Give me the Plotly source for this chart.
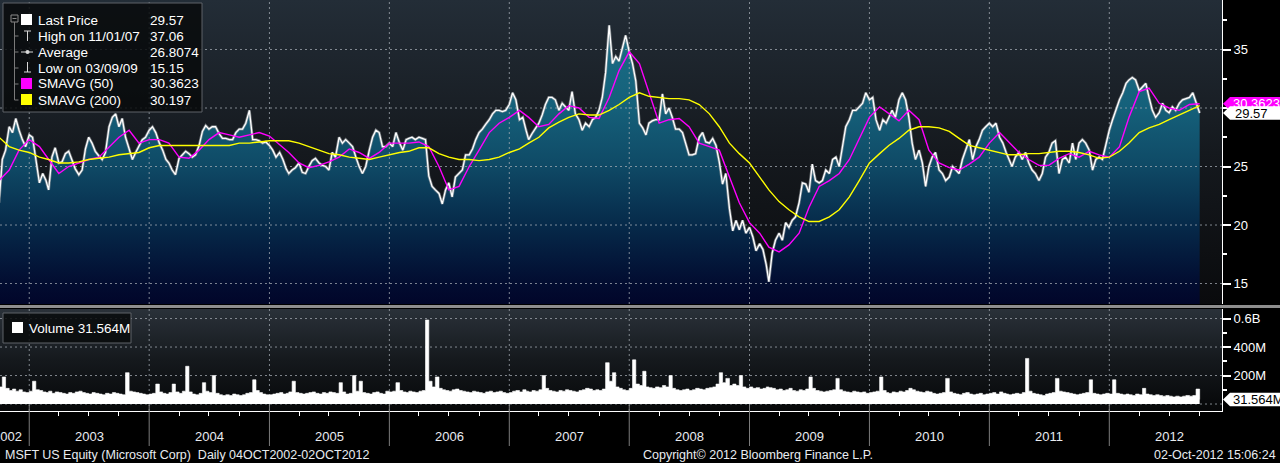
import plotly.graph_objects as go

# MSFT US Equity, daily 04OCT2002-02OCT2012.
# Price is sampled on the 1st, 11th and 21st of every month, last value is 02-Oct-2012.
price_2002 = [21.9, 25.6, 26.4, 28.4, 27.9, 29.1, 28.1, 27.3, 26.7]
price_2003 = [27.7, 27.5, 25.8, 23.6, 24.4, 23.8, 23.0, 25.8, 26.6, 25.3, 25.4, 26.1,
              26.3, 25.6, 24.8, 24.3, 24.7, 26.5, 27.5, 27.0, 26.3, 25.9, 25.6, 26.2,
              28.4, 29.2, 29.5, 28.4, 29.1, 27.5, 26.4, 25.6, 26.2, 26.7, 27.3, 27.5]
price_2004 = [28.1, 28.4, 27.9, 27.0, 26.4, 25.6, 25.3, 24.7, 24.3, 25.7, 26.0, 26.3,
              26.1, 25.8, 26.0, 26.8, 28.0, 28.5, 28.2, 28.4, 28.4, 27.8, 27.4, 27.4,
              27.3, 27.3, 27.9, 28.2, 28.2, 28.7, 29.8, 27.3, 27.3, 27.2, 27.0, 27.1]
price_2005 = [26.8, 26.4, 25.8, 26.2, 25.6, 24.8, 24.4, 24.7, 24.9, 25.3, 24.5, 24.4,
              25.0, 25.5, 25.7, 25.3, 25.1, 25.0, 24.7, 26.2, 25.8, 27.5, 27.0, 27.3,
              27.0, 26.7, 25.8, 25.0, 24.4, 25.0, 26.4, 27.5, 28.1, 27.9, 26.7, 26.7]
price_2006 = [27.0, 26.7, 27.9, 27.0, 26.4, 27.3, 27.4, 27.5, 27.3, 27.5, 27.4, 27.3,
              24.2, 23.3, 23.0, 22.7, 21.8, 23.0, 23.6, 22.4, 24.1, 24.4, 24.7, 26.0,
              26.0, 26.5, 27.3, 27.9, 28.2, 28.6, 29.0, 29.5, 29.8, 29.8, 29.7, 29.8]
price_2007 = [30.3, 31.3, 30.7, 29.0, 29.2, 28.1, 27.3, 27.8, 28.2, 28.7, 29.4, 30.3,
              30.9, 30.9, 30.7, 29.8, 30.4, 30.1, 29.8, 31.4, 29.5, 29.0, 28.1, 28.7,
              28.4, 29.0, 29.2, 29.8, 30.9, 33.0, 37.06, 33.8, 34.4, 34.0, 35.2, 36.2]
price_2008 = [34.8, 33.8, 32.3, 28.7, 28.3, 27.7, 28.7, 28.9, 29.0, 29.0, 31.2, 29.5,
              30.0, 29.2, 28.2, 28.2, 27.9, 27.0, 26.0, 26.0, 26.1, 27.5, 27.9, 27.1,
              27.0, 27.4, 26.8, 25.4, 23.5, 24.4, 21.4, 19.5, 20.4, 19.6, 20.4, 19.3]
price_2009 = [19.8, 19.0, 17.8, 18.4, 17.9, 16.6, 15.15, 17.6, 18.7, 19.3, 18.7, 20.2,
              19.8, 20.4, 20.7, 21.9, 23.6, 23.5, 22.8, 25.2, 23.8, 23.6, 23.8, 24.7,
              24.4, 25.6, 25.8, 25.0, 26.7, 28.4, 29.0, 29.8, 29.8, 30.1, 30.4, 31.3]
price_2010 = [30.7, 30.9, 29.0, 28.1, 29.0, 28.7, 29.2, 29.8, 29.2, 30.7, 31.3, 30.7,
              29.2, 27.0, 25.6, 26.4, 25.3, 23.3, 25.0, 25.8, 26.2, 24.7, 24.4, 23.8,
              24.1, 25.0, 24.7, 24.4, 25.6, 26.4, 27.3, 25.6, 26.7, 27.3, 28.1, 28.4]
price_2011 = [28.7, 28.4, 28.7, 27.5, 27.0, 26.2, 25.6, 25.0, 25.8, 26.2, 25.6, 26.2,
              25.3, 24.7, 24.4, 23.8, 24.4, 25.8, 26.2, 27.0, 27.2, 24.4, 25.6, 25.8,
              25.3, 27.0, 25.6, 27.0, 27.3, 27.0, 26.4, 24.7, 25.6, 25.8, 25.6, 26.9]
price_2012 = [28.1, 29.0, 29.8, 30.7, 31.3, 32.1, 32.4, 32.6, 32.4, 31.5, 31.8, 32.1,
              30.9, 29.8, 29.2, 29.6, 30.4, 29.8, 29.6, 30.1, 29.8, 30.4, 30.7, 30.8,
              30.9, 31.3, 30.4, 29.57]

# volume in millions for the same 10 day slots (busiest day of the slot)
vol_2002 = [120, 190, 110, 95, 105, 90, 100, 85, 80]
vol_2003 = [90, 160, 100, 95, 85, 80, 90, 75, 85, 80, 75, 70, 80, 75, 85, 90, 80, 75,
            70, 80, 75, 70, 65, 75, 70, 80, 75, 70, 65, 220, 90, 85, 80, 75, 70, 65]
vol_2004 = [70, 75, 140, 85, 75, 70, 80, 140, 85, 75, 90, 265, 85, 70, 65, 75, 150, 90,
            80, 200, 75, 65, 60, 65, 60, 70, 65, 60, 65, 75, 80, 170, 95, 80, 70, 65]
vol_2005 = [65, 70, 75, 80, 70, 75, 85, 160, 80, 75, 70, 75, 80, 85, 75, 70, 80, 75,
            85, 80, 75, 150, 85, 70, 75, 200, 90, 160, 80, 75, 70, 80, 85, 75, 70, 90]
vol_2006 = [85, 90, 150, 95, 85, 80, 90, 85, 80, 90, 95, 590, 160, 120, 190, 110, 100, 95,
            90, 100, 105, 95, 90, 85, 80, 90, 85, 80, 75, 85, 90, 80, 85, 90, 80, 75]
vol_2007 = [80, 90, 95, 85, 100, 90, 85, 95, 90, 100, 200, 110, 95, 90, 85, 95, 90, 100,
            95, 90, 85, 95, 100, 110, 105, 95, 100, 95, 105, 290, 160, 220, 120, 110, 100, 95]
vol_2008 = [110, 310, 140, 130, 230, 120, 115, 110, 120, 115, 130, 120, 200, 110, 100, 95, 100, 105,
            95, 100, 110, 105, 100, 110, 115, 120, 140, 220, 150, 180, 130, 140, 130, 200, 120, 110]
vol_2009 = [120, 110, 115, 105, 110, 120, 115, 110, 100, 105, 95, 100, 110, 95, 90, 100, 95, 105,
            190, 110, 95, 90, 85, 90, 95, 100, 180, 100, 90, 85, 80, 90, 85, 80, 85, 75]
vol_2010 = [80, 85, 90, 190, 95, 80, 75, 85, 80, 90, 85, 95, 110, 100, 90, 85, 80, 90,
            85, 75, 70, 75, 80, 180, 85, 75, 70, 65, 75, 80, 70, 65, 70, 75, 65, 70]
vol_2011 = [75, 80, 70, 85, 75, 70, 65, 70, 75, 70, 80, 320, 90, 75, 70, 65, 60, 70,
            75, 80, 180, 90, 85, 80, 75, 70, 65, 70, 75, 80, 170, 75, 70, 65, 70, 75]
vol_2012 = [70, 170, 75, 70, 65, 70, 65, 60, 70, 65, 110, 70, 65, 60, 65, 60, 55, 60,
            55, 50, 55, 50, 55, 60, 55, 60, 105, 31.564]

# moving averages, one reading at the start of each month (last one = 02-Oct-2012)
sma50 = [23.8, 24.7, 26.4, 27.3, 26.7, 25.6, 24.4, 25.0, 25.3, 25.6,
         25.8, 26.7, 27.5, 28.1, 27.0, 27.3, 27.3, 27.0, 25.8, 25.7,
         26.4, 27.3, 27.9, 27.7, 27.5, 27.7, 27.9, 27.6, 26.9, 26.2,
         25.3, 24.9, 25.1, 25.4, 25.8, 26.5, 26.2, 25.7, 26.2, 27.0,
         27.0, 27.0, 27.1, 26.7, 25.0, 23.0, 23.3, 25.0, 26.4, 27.9,
         28.7, 29.2, 29.8, 29.2, 28.4, 28.6, 29.5, 30.2, 30.0, 29.2,
         29.1, 30.9, 33.2, 34.8, 33.8, 31.3, 28.7, 29.0, 29.1, 28.4,
         27.0, 26.7, 26.4, 24.1, 21.9, 20.2, 19.3, 18.1, 17.7, 18.3,
         19.3, 21.5, 23.3, 23.8, 24.4, 25.6, 27.3, 29.2, 30.1, 29.5,
         28.9, 29.8, 29.0, 26.4, 25.3, 24.9, 24.7, 25.2, 25.8, 27.0,
         27.9, 27.1, 26.2, 25.6, 25.1, 25.1, 25.7, 26.1, 25.8, 26.3,
         26.0, 25.8, 26.7, 29.2, 31.4, 31.7, 30.4, 30.0, 29.8, 30.3,
         30.3623]
sma200 = [27.5, 26.7, 26.4, 26.2, 25.8, 25.6, 25.3, 25.3, 25.4, 25.6,
          25.7, 25.8, 26.0, 26.1, 26.2, 26.6, 26.8, 26.8, 26.8, 26.8,
          26.8, 26.8, 26.8, 26.8, 27.0, 27.0, 27.1, 27.2, 27.2, 27.2,
          27.0, 26.7, 26.4, 26.1, 26.0, 25.8, 25.7, 25.6, 25.8, 26.0,
          26.2, 26.3, 26.6, 26.6, 26.1, 25.8, 25.6, 25.6, 25.5, 25.6,
          25.8, 26.2, 26.5, 27.0, 27.5, 28.3, 28.8, 29.2, 29.5, 29.4,
          29.4, 29.8, 30.3, 30.9, 31.3, 31.0, 30.9, 30.8, 30.8, 30.7,
          30.3, 29.5, 28.4, 27.0, 26.1, 25.3, 24.1, 23.0, 22.0, 21.3,
          20.7, 20.3, 20.3, 20.7, 21.3, 22.4, 23.8, 25.3, 26.1, 26.8,
          27.4, 28.1, 28.4, 28.4, 28.3, 28.0, 27.4, 26.8, 26.6, 26.4,
          26.2, 26.0, 26.0, 26.1, 26.1, 26.2, 26.3, 26.3, 26.2, 26.0,
          25.7, 25.8, 26.3, 27.0, 27.9, 28.3, 28.6, 29.0, 29.4, 29.8,
          30.197]

price = (price_2002 + price_2003 + price_2004 + price_2005 + price_2006 + price_2007
         + price_2008 + price_2009 + price_2010 + price_2011 + price_2012)
volume = (vol_2002 + vol_2003 + vol_2004 + vol_2005 + vol_2006 + vol_2007
          + vol_2008 + vol_2009 + vol_2010 + vol_2011 + vol_2012)

legend_rows = [("Last Price", "29.57"), ("High on 11/01/07", "37.06"),
               ("Average", "26.8074"), ("Low on 03/09/09", "15.15"),
               ("SMAVG (50)", "30.3623"), ("SMAVG (200)", "30.197")]
last_price, last_sma50, last_volume = 29.57, 30.3623, 31.564
price_ticks = [15, 20, 25, 30, 35]
price_minor = [17.5, 22.5, 27.5, 32.5, 37.5]
volume_ticks = [200, 400, 600]
volume_ticktext = ["200M", "400M", "0.6B"]
volume_minor = [100, 300, 500]
years = list(range(2003, 2013))

in_range = lambda y, m: (2002, 10) <= (y, m) <= (2012, 9)
slot_dates = [f"{y}-{m:02d}-{d:02d}" for y in range(2002, 2013) for m in range(1, 13)
              for d in (1, 11, 21) if in_range(y, m)] + ["2012-10-02"]
month_dates = [f"{y}-{m:02d}-01" for y in range(2002, 2013) for m in range(1, 13)
               if in_range(y, m)] + ["2012-10-02"]
quarter_dates = [f"{y}-{m:02d}-01" for y in range(2002, 2013) for m in (4, 7, 10)
                 if (2002, 10) <= (y, m) <= (2012, 10)]
year_starts = [f"{y}-01-01" for y in years]

X_RANGE = ["2002-10-04", "2012-12-09"]
P_RANGE = [13.25, 39.23]
V_RANGE = [-49, 667]

# plot area is 1222 x 411 px, margins left/top are zero
PW, PH = 1222, 411
def xp(px): return px / PW
def yp(py): return 1 - py / PH

FONT = "Liberation Sans, Arial, sans-serif"
GRID = dict(color="rgba(165,172,180,0.75)", width=1, dash="2px,3px")

fig = go.Figure()

# panel backgrounds (vertical gradients)
fig.add_trace(go.Scatter(
    x=[X_RANGE[0], X_RANGE[1], X_RANGE[1], X_RANGE[0]],
    y=[P_RANGE[0], P_RANGE[0], P_RANGE[1], P_RANGE[1]],
    fill="toself", mode="none", hoverinfo="skip",
    fillgradient=dict(type="vertical",
                      colorscale=[[0, "#0a0b0d"], [0.5, "#15191e"], [1, "#232d37"]])))
fig.add_trace(go.Scatter(
    x=[X_RANGE[0], X_RANGE[1], X_RANGE[1], X_RANGE[0]],
    y=[V_RANGE[0], V_RANGE[0], V_RANGE[1], V_RANGE[1]], yaxis="y2",
    fill="toself", mode="none", hoverinfo="skip",
    fillgradient=dict(type="vertical",
                      colorscale=[[0, "#060708"], [0.5, "#15191d"], [1, "#2a3139"]])))

# area under the price
fig.add_trace(go.Scatter(
    x=slot_dates, y=price, mode="none", fill="tozeroy", hoverinfo="skip",
    fillgradient=dict(type="vertical", start=P_RANGE[0], stop=37.5,
                      colorscale=[[0, "#01062a"], [0.07, "#020c30"], [0.28, "#062a4a"],
                                  [0.49, "#0f4a66"], [0.69, "#15607a"], [1, "#1b7088"]])))

# dashed grid
def vlines(dates, lo, hi):
    xs, ys = [], []
    for d in dates:
        xs += [d, d, None]
        ys += [lo, hi, None]
    return xs, ys

def hlines(vals):
    xs, ys = [], []
    for v in vals:
        xs += [X_RANGE[0], X_RANGE[1], None]
        ys += [v, v, None]
    return xs, ys

gx, gy = vlines(year_starts, *P_RANGE)
hx, hy = hlines(price_ticks)
fig.add_trace(go.Scatter(x=gx + hx, y=gy + hy, mode="lines", line=GRID, hoverinfo="skip"))
gx, gy = vlines(year_starts, *V_RANGE)
hx, hy = hlines([0] + volume_ticks)
fig.add_trace(go.Scatter(x=gx + hx, y=gy + hy, yaxis="y2", mode="lines", line=GRID,
                         hoverinfo="skip"))

# volume
fig.add_trace(go.Scatter(x=slot_dates, y=volume, yaxis="y2", mode="lines",
                         line=dict(color="white", width=0.6, shape="hv"),
                         fill="tozeroy", fillcolor="white"))

# price line with a soft grey edge, then the averages
fig.add_trace(go.Scatter(x=slot_dates, y=price, mode="lines",
                         line=dict(color="rgba(150,155,160,0.7)", width=2.8)))
fig.add_trace(go.Scatter(x=slot_dates, y=price, mode="lines",
                         line=dict(color="white", width=1.3)))
fig.add_trace(go.Scatter(x=month_dates, y=sma50, mode="lines",
                         line=dict(color="#ff00ff", width=1.4)))
fig.add_trace(go.Scatter(x=month_dates, y=sma200, mode="lines",
                         line=dict(color="#ffff00", width=1.4)))

# ---- decorations ----
shapes, annotations = [], []

def box(x0, y0, x1, y1, fill, border=None):
    return dict(type="rect", xref="paper", yref="paper", x0=xp(x0), x1=xp(x1),
                y0=yp(y1), y1=yp(y0), fillcolor=fill,
                line=dict(color=border or fill, width=1 if border else 0))

def seg(x0, y0, x1, y1, color="#d8d8d8", width=1):
    return dict(type="line", xref="paper", yref="paper", x0=xp(x0), y0=yp(y0),
                x1=xp(x1), y1=yp(y1), line=dict(color=color, width=width))

def text(x, y, s, color="white", size=13.5, anchor="left", xref="paper", yref="paper"):
    return dict(x=x, y=y, xref=xref, yref=yref, text=s, showarrow=False,
                xanchor=anchor, yanchor="middle", font=dict(family=FONT, size=size, color=color))

def tag(v, half, yref, fill):
    path = (f"M {xp(1223)},{v} L {xp(1230)},{v + half} L {xp(1282)},{v + half} "
            f"L {xp(1282)},{v - half} L {xp(1230)},{v - half} Z")
    return dict(type="path", xref="paper", yref=yref, path=path, fillcolor=fill,
                line=dict(color=fill, width=0))

# grey separator between the panels
shapes.append(box(0, 305, 1282, 308, "#8e8e8e"))

# year separators below the axis
for d in year_starts:
    shapes.append(dict(type="line", xref="x", yref="paper", x0=d, x1=d,
                       y0=yp(446), y1=yp(405), line=dict(color="#7c7c7c", width=1)))

# price legend
shapes.append(box(3, 3, 202, 112, "rgba(8,10,12,0.85)", "#5e6369"))
shapes.append(box(11, 15, 18, 22, "rgba(0,0,0,0)", "#8a8a8a"))
shapes.append(seg(12.5, 18.5, 16.5, 18.5, "#8a8a8a"))
shapes.append(seg(14.5, 22, 14.5, 100, "#7a7a7a"))
for ry in (36, 52, 68, 84, 100):
    shapes.append(seg(14.5, ry, 18.5, ry, "#7a7a7a"))
shapes.append(box(21, 14, 32, 25, "white"))
shapes.append(seg(24, 31, 31, 31))
shapes.append(seg(27.5, 31, 27.5, 41))
shapes.append(seg(21, 52, 33, 52))
shapes.append(dict(type="circle", xref="paper", yref="paper", x0=xp(25.5), x1=xp(29.5),
                   y0=yp(54), y1=yp(50), fillcolor="#d8d8d8", line=dict(width=0)))
shapes.append(seg(27.5, 62, 27.5, 72))
shapes.append(seg(24, 72, 31, 72))
shapes.append(box(21, 78, 32, 89, "#ff00ff"))
shapes.append(box(21, 94, 32, 105, "#ffff00"))
for i, (name, val) in enumerate(legend_rows):
    ry = 20 + 16 * i
    annotations.append(text(xp(36), yp(ry), name))
    annotations.append(text(xp(148), yp(ry), val))

# volume legend
shapes.append(box(3, 313, 131, 343, "rgba(8,10,12,0.85)", "#5e6369"))
shapes.append(box(12, 322, 23, 333, "white"))
annotations.append(text(xp(27), yp(328), f"Volume {last_volume}M"))

# last value tags on the right axis
p_half = 6.8 * (P_RANGE[1] - P_RANGE[0]) / 304
v_half = 6.8 * (V_RANGE[1] - V_RANGE[0]) / 102
shapes.append(tag(last_sma50, p_half, "y", "#ff00ff"))
annotations.append(text(xp(1231), last_sma50, f"{last_sma50}", "white", 13, yref="y"))
shapes.append(tag(last_price, p_half, "y", "white"))
annotations.append(text(xp(1233), last_price, f"{last_price}", "black", 13, yref="y"))
shapes.append(tag(last_volume, v_half, "y2", "white"))
annotations.append(text(xp(1231), last_volume, f"{last_volume}M", "black", 13, yref="y2"))

# year labels and footer
for y in years:
    annotations.append(text(f"{y}-07-02", yp(437), str(y), "#e8ecf0", 13, "center", xref="x"))
annotations.append(text(xp(7), yp(437), "2002", "#e8ecf0", 13, "center"))
annotations.append(text(xp(3), yp(455), "MSFT US Equity (Microsoft Corp)  Daily 04OCT2002-02OCT2012",
                        "#e8ecf0", 12.5))
annotations.append(text(xp(758), yp(455), "Copyright\u00a9 2012 Bloomberg Finance L.P.",
                        "#e8ecf0", 12.5, "center"))
annotations.append(text(xp(1278), yp(455), "02-Oct-2012 15:06:24", "#e8ecf0", 12.5, "right"))

axis_common = dict(showgrid=False, zeroline=False, fixedrange=True)
fig.update_layout(
    width=1280, height=463, margin=dict(l=0, r=58, t=0, b=52),
    paper_bgcolor="black", plot_bgcolor="black", showlegend=False,
    font=dict(family=FONT, size=13, color="white"),
    xaxis=dict(type="date", range=X_RANGE, anchor="y2", showline=True, linecolor="white",
               linewidth=1, ticks="outside", ticklen=4, tickcolor="white",
               tickvals=quarter_dates, showticklabels=False, **axis_common),
    yaxis=dict(domain=[yp(304), 1], range=P_RANGE, side="right", anchor="x",
               showline=True, linecolor="white", linewidth=1,
               tickvals=price_ticks, ticks="outside", ticklen=8, tickwidth=2,
               tickcolor="white", tickfont=dict(size=13, color="white"),
               minor=dict(tickvals=price_minor, ticks="outside", ticklen=4,
                          tickcolor="white"),
               **axis_common),
    yaxis2=dict(domain=[0, yp(309)], range=V_RANGE, side="right", anchor="x",
                showline=True, linecolor="white", linewidth=1,
                tickvals=volume_ticks, ticktext=volume_ticktext, ticks="outside",
                ticklen=8, tickwidth=2, tickcolor="white",
                tickfont=dict(size=13, color="white"),
                minor=dict(tickvals=volume_minor, ticks="outside", ticklen=4,
                           tickcolor="white"),
                **axis_common),
    shapes=shapes, annotations=annotations,
)

# the page's default body margin would push the 1280x463 figure out of the window
fig.write_html("out.html", config={"displayModeBar": False},
               post_script="document.body.style.margin='0px';")
